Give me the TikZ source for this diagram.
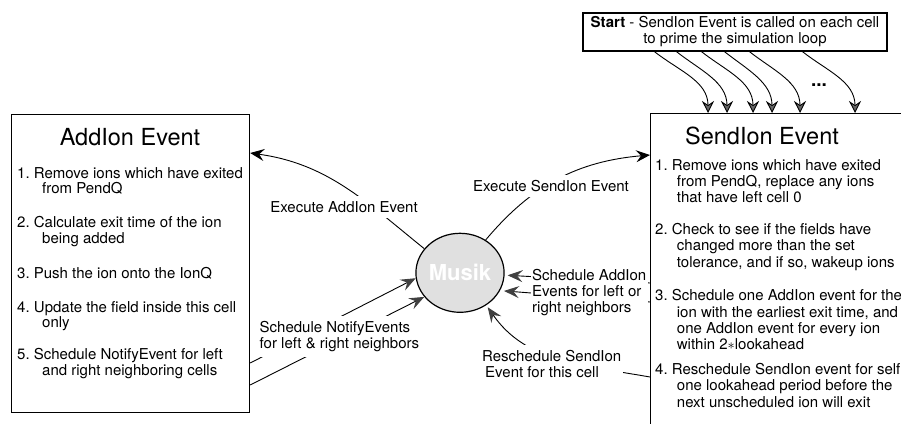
\documentclass[tikz,border=0pt]{standalone}
\usepackage{fontspec}
\setmainfont{TeX Gyre Heros}
\usetikzlibrary{arrows.meta,shapes.geometric,calc}
\begin{document}
\frenchspacing
\begin{tikzpicture}[x=1pt,y=1pt,
  txt/.style={font=\fontsize{15}{15.5}\selectfont, inner sep=0pt, align=left, anchor=north west},
  txtb/.style={font=\fontsize{15}{16.3}\selectfont, inner sep=0pt, align=left, anchor=north west},
  ttl/.style={font=\fontsize{23.5}{26}\selectfont, inner sep=0pt, anchor=base},
  lab/.style={font=\fontsize{15}{16}\selectfont, fill=white, inner xsep=1.5pt, inner ysep=5pt, align=left},
  box/.style={draw, line width=1.2pt, inner sep=0pt},
  exe/.style={-{Stealth[length=14pt,width=12pt,inset=5pt]}, line width=0.9pt},
  sch/.style={-{Stealth[length=15pt,width=12pt,inset=5.5pt,color=black!75]}, line width=0.9pt},
  prime/.style={-{Stealth[length=12pt,width=12pt,inset=4pt,fill=black!60,color=black]}, line width=0.9pt},
]
\useasboundingbox (0,0) rectangle (901,-423);
\clip (0,0) rectangle (901,-423);

% boxes
\node[box, minimum width=238pt, minimum height=298pt, anchor=north west] (add) at (11,-114) {};
\node[box, minimum width=280pt, minimum height=340pt, anchor=north west] (send) at (650,-113) {};
\node[box, minimum width=304pt, minimum height=38pt, font=\fontsize{15}{16}\selectfont, align=center] (start) at (735,-32)
  {\textbf{Start} - SendIon Event is called on each cell\\to prime the simulation loop};

% titles
\node[ttl] (addt) at (130,-145) {AddIon Event};
\node[ttl] (sendt) at (762,-144) {SendIon Event};

% lists
\node[txt] (addl) at (17,-167) {1. Remove ions which have exited\\
\hspace*{25pt}from PendQ\\[18.5pt]
2. Calculate exit time of the ion\\
\hspace*{25pt}being added\\[19.5pt]
3. Push the ion onto the IonQ\\[18.5pt]
4. Update the field inside this cell\\
\hspace*{25pt}only\\[16.5pt]
5. Schedule NotifyEvent for left\\
\hspace*{25pt}and right neighboring cells};

\node[txtb] (sendl) at (655,-159) {1. Remove ions which have exited\\
\hspace*{21.7pt}from PendQ, replace any ions\\
\hspace*{21.7pt}that have left cell 0\\[15.5pt]
2. Check to see if the fields have\\
\hspace*{21.7pt}changed more than the set\\
\hspace*{21.7pt}tolerance, and if so, wakeup ions\\[17.5pt]
3. Schedule one AddIon event for the\\
\hspace*{21.7pt}ion with the earliest exit time, and\\
\hspace*{21.7pt}one AddIon event for every ion\\
\hspace*{21.7pt}within 2$\ast$lookahead\\[8.5pt]
4. Reschedule SendIon event for self\\
\hspace*{21.7pt}one lookahead period before the\\
\hspace*{21.7pt}next unscheduled ion will exit};

% Musik
\node[ellipse, draw, line width=1.2pt, fill=black!12, minimum width=85.4pt, minimum height=79pt, inner sep=0pt,
      font=\fontsize{22}{24}\selectfont\bfseries, text=white] (musik) at (460,-272.8) {Musik};

% start arrows
\foreach \a/\b in {72/58, 94/77, 119/103, 142/122, 167/150, 220/205}
  \draw[prime] ([xshift=\a pt]start.south west) to[out=-38,in=90] ([xshift=\b pt]send.north west);
\node[font=\fontsize{19}{20}\selectfont\bfseries, inner sep=0pt, anchor=base] (dots) at (819,-86) {...};

% execute arrows
\draw[exe] (musik.146) to[out=141,in=-8] ([yshift=-39pt]add.north east);
\draw[exe] (musik.52) to[out=50,in=185] ([yshift=-42pt]send.north west);

% schedule notify
\draw[sch] ([yshift=-249pt]add.north east) -- (musik.187);
\draw[sch] ([yshift=-271pt]add.north east) -- (musik.214);

% schedule addion
\draw[sch, shorten >=3pt] ([yshift=-170pt]send.north west) -- (musik.-3);
\draw[sch, shorten >=4pt] ([yshift=-189pt]send.north west) -- (musik.-24);

% reschedule
\draw[sch, shorten >=2.5pt] ([yshift=-264pt]send.north west) to[out=170,in=-55] (musik.-51);

% labels
\node[lab] (lexa) at (344,-207) {Execute AddIon Event};
\node[lab] (lexs) at (551,-186) {Execute SendIon Event};
\node[lab, anchor=north west] (lnot) at (258,-316) {Schedule NotifyEvents\\for left \& right neighbors};
\node[lab, anchor=north west] (lsch) at (530.5,-264) {Schedule AddIon\\Events for left or\\right neighbors};
\node[lab, anchor=north west] (lres) at (480.5,-345) {Reschedule SendIon\\\hspace*{3pt}Event for this cell};
\end{tikzpicture}
\end{document}
